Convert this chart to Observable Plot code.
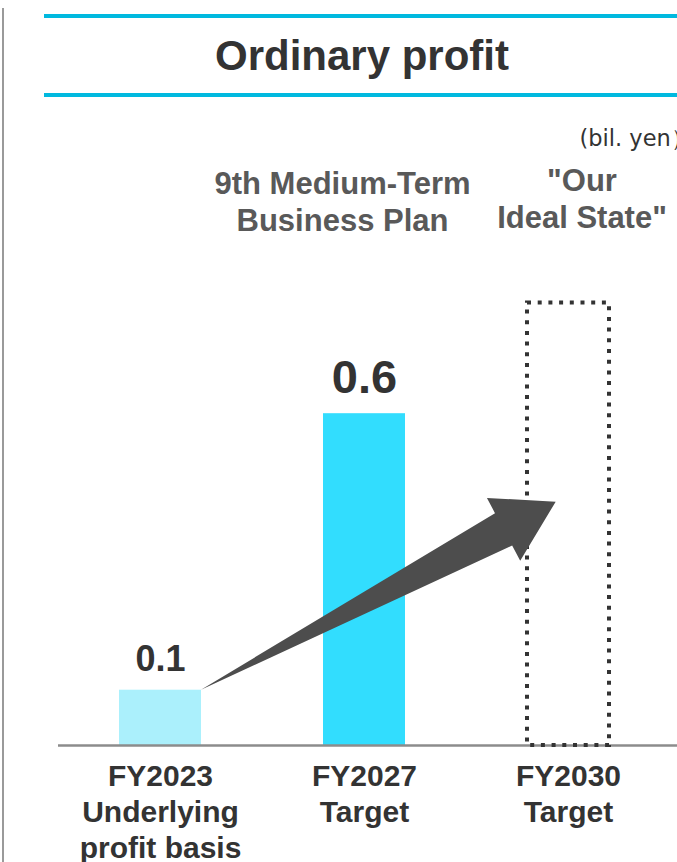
<!DOCTYPE html>
<html>
<head>
<meta charset="utf-8">
<script src="https://cdn.jsdelivr.net/npm/d3@7"></script>
<script src="https://cdn.jsdelivr.net/npm/@observablehq/plot@0.6"></script>
<style>
html, body { margin: 0; padding: 0; background: #fff; overflow: hidden; }
#wrap { position: relative; width: 677px; height: 862px; font-family: "Liberation Sans", Arial, sans-serif; }
#vline { position: absolute; left: 2px; top: 8px; width: 2px; height: 854px; background: #9a9a9a; z-index: 2; }
#header { position: relative; height: 110px; }
.cyan { position: absolute; left: 44px; width: 633px; height: 4px; background: #00b9df; }
#title { position: absolute; left: 47px; width: 630px; top: 35px; font-size: 42px; line-height: 42px; font-weight: bold; color: #333; text-align: center; white-space: nowrap; }
#chart svg { display: block; }
</style>
</head>
<body>
<div id="wrap">
  <div id="vline"></div>
  <div id="header">
    <div class="cyan" style="top:13.5px"></div>
    <div id="title">Ordinary profit</div>
    <div class="cyan" style="top:93px"></div>
  </div>
  <div id="chart"></div>
</div>
<script>
// ---- data ----
const categories = ["FY2023", "FY2027", "FY2030"];
const values = [0.1, 0.6, 0.8];
const valueLabels = ["0.1", "0.6", ""];
const axisLabels = ["FY2023\nUnderlying\nprofit basis", "FY2027\nTarget", "FY2030\nTarget"];
const headerLabels = ["", "9th Medium-Term\nBusiness Plan", "\"Our\nIdeal State\""];
const unitLabel = "(bil. yen）";
const arrowFrom = ["FY2023", 0.1];
const arrowTo = ["FY2030", 0.44];

const rows = categories.map((c, i) => ({
  category: c, value: values[i], label: valueLabels[i], axis: axisLabels[i], header: headerLabels[i]
}));

const FONT = "Liberation Sans, Arial, sans-serif";

function arrowMark(index, scales) {
  const x = scales.x, y = scales.y;
  const bw = x.bandwidth();
  const S = [x(arrowFrom[0]) + bw, y(arrowFrom[1])];
  const T = [x(arrowTo[0]) + bw * 0.35, y(arrowTo[1])];
  const dx = T[0] - S[0], dy = T[1] - S[1];
  const L = Math.hypot(dx, dy);
  const u = [dx / L, dy / L];
  const n = [-u[1], u[0]];
  const headLen = 59, headHalf = 35.5, shaftHalf = 18.3;
  const B = [T[0] - u[0] * headLen, T[1] - u[1] * headLen];
  const pts = [
    S,
    [B[0] + n[0] * shaftHalf, B[1] + n[1] * shaftHalf],
    [B[0] + n[0] * headHalf, B[1] + n[1] * headHalf],
    T,
    [B[0] - n[0] * headHalf, B[1] - n[1] * headHalf],
    [B[0] - n[0] * shaftHalf, B[1] - n[1] * shaftHalf]
  ];
  const p = document.createElementNS("http://www.w3.org/2000/svg", "path");
  p.setAttribute("d", "M" + pts.map(q => q[0].toFixed(2) + "," + q[1].toFixed(2)).join("L") + "Z");
  p.setAttribute("fill", "#4d4d4d");
  return p;
}

const chart = Plot.plot({
  width: 677,
  height: 752,
  marginLeft: 58,
  marginRight: 0,
  marginTop: 82,
  marginBottom: 117,
  style: { fontFamily: FONT, background: "white" },
  x: { domain: categories, paddingInner: 0.598, paddingOuter: 0.316, align: 0.473, axis: null },
  y: { domain: [0, 1], axis: null },
  marks: [
    Plot.barY(rows.filter(d => d.category === "FY2023"), { x: "category", y: "value", fill: "#abf0fc" }),
    Plot.barY(rows.filter(d => d.category === "FY2027"), { x: "category", y: "value", fill: "#32ddfe" }),
    Plot.ruleY([0], { stroke: "#8c8c8c", strokeWidth: 2.5 }),
    Plot.barY(rows.filter(d => d.category === "FY2030"), {
      x: "category", y: "value", fill: "none", stroke: "#333", strokeWidth: 4, strokeDasharray: "4,6.7"
    }),
    arrowMark,
    Plot.text(rows.filter(d => d.category === "FY2023"), {
      x: "category", y: "value", text: "label", lineAnchor: "bottom", dy: -19,
      fontSize: 36, fontWeight: "bold", fill: "#333"
    }),
    Plot.text(rows.filter(d => d.category === "FY2027"), {
      x: "category", y: "value", text: "label", lineAnchor: "bottom", dy: -21,
      fontSize: 47, fontWeight: "bold", fill: "#333"
    }),
    Plot.text(rows, {
      x: "category", text: "axis", frameAnchor: "bottom", lineAnchor: "top", dy: 15,
      fontSize: 30, fontWeight: "bold", lineHeight: 1.2, fill: "#333"
    }),
    Plot.text(rows.filter(d => d.category === "FY2027"), {
      x: "category", text: "header", frameAnchor: "top", lineAnchor: "top", dy: -25, dx: -22,
      fontSize: 31, fontWeight: "bold", lineHeight: 1.19, fill: "#595959"
    }),
    Plot.text(rows.filter(d => d.category === "FY2030"), {
      x: "category", text: "header", frameAnchor: "top", lineAnchor: "top", dy: -28, dx: 13.5,
      fontSize: 31, fontWeight: "bold", lineHeight: 1.19, fill: "#595959"
    }),
    Plot.text([unitLabel], {
      text: d => d, frameAnchor: "top-right", textAnchor: "start", lineAnchor: "bottom",
      dx: -98, dy: -47, fontSize: 22.5, fontFamily: "DejaVu Sans", fill: "#333"
    })
  ]
});
document.getElementById("chart").appendChild(chart);
</script>
</body>
</html>
